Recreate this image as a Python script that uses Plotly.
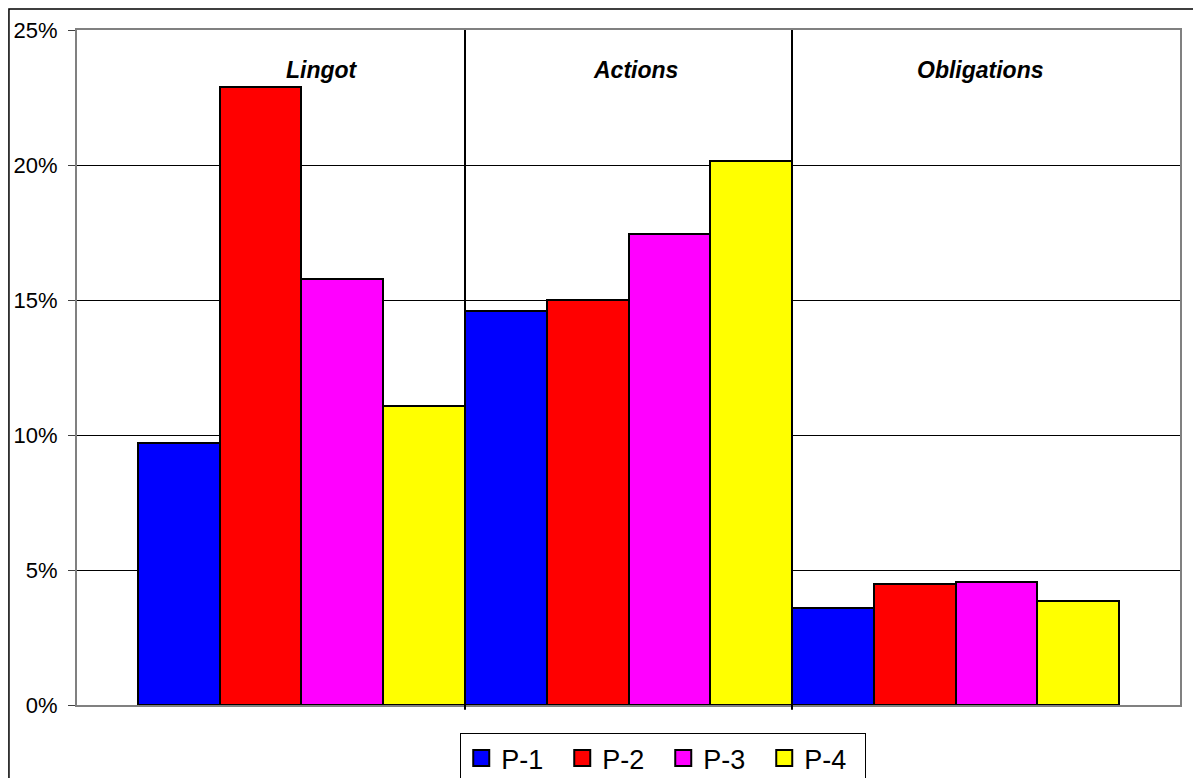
import plotly.graph_objects as go

# Asset classes and the four portfolios
categories = ["Lingot", "Actions", "Obligations"]
series_names = ["P-1", "P-2", "P-3", "P-4"]
p1 = [9.69, 14.59, 3.58]
p2 = [22.90, 15.00, 4.48]
p3 = [15.77, 17.43, 4.56]
p4 = [11.09, 20.16, 3.84]
y_ticks = [0, 5, 10, 15, 20, 25]
y_tick_labels = ["0%", "5%", "10%", "15%", "20%", "25%"]

series_values = [p1, p2, p3, p4]
colors = ["#0000FF", "#FF0000", "#FF00FF", "#FFFF00"]
font_family = "Liberation Sans, Arial, sans-serif"

n_series = len(series_names)
fig = go.Figure()

# Each category is a block of four adjacent bars (one slot per portfolio)
for s, (name, vals, col) in enumerate(zip(series_names, series_values, colors)):
    xs = [c * n_series + s for c in range(len(categories))]
    fig.add_trace(go.Bar(
        x=xs, y=vals, name=name, width=1.0,
        marker=dict(color=col, line=dict(color="black", width=2)),
        showlegend=False,
    ))
    # legend entry with a larger square swatch
    fig.add_trace(go.Scatter(
        x=[None], y=[None], mode="markers", name=name,
        marker=dict(symbol="square", size=16, color=col,
                    line=dict(color="black", width=2)),
    ))

shapes = []
# vertical separators between categories
for c in range(1, len(categories)):
    xsep = c * n_series - 0.5
    shapes.append(dict(type="line", xref="x", yref="paper", x0=xsep, x1=xsep,
                       y0=-0.007, y1=1, line=dict(color="black", width=2)))
# outer chart frame (runs off the right and bottom edges)
shapes.append(dict(type="rect", xref="paper", yref="paper",
                   x0=-0.0617, x1=1.05, y0=-0.2, y1=1.0311,
                   line=dict(color="black", width=1.5), layer="below"))

# category captions inside the plot
label_x = [1.75, 5.58, 9.80]
annotations = [
    dict(x=lx, y=0.941, xref="x", yref="paper", text=f"<b><i>{cat}</i></b>",
         showarrow=False, font=dict(family=font_family, size=23, color="black"),
         xanchor="center", yanchor="middle")
    for lx, cat in zip(label_x, categories)
]

fig.update_layout(
    width=1193, height=778,
    margin=dict(l=77, r=13, t=30, b=73, autoexpand=False),
    paper_bgcolor="white", plot_bgcolor="white",
    bargap=0, barmode="overlay",
    font=dict(family=font_family, color="black"),
    shapes=shapes,
    annotations=annotations,
    xaxis=dict(range=[-1.246, 12.246], showticklabels=False, showgrid=False,
               zeroline=False, ticks="", showline=True, mirror=True,
               linecolor="#808080", linewidth=2, fixedrange=True),
    yaxis=dict(range=[0, 25], tickvals=y_ticks, ticktext=y_tick_labels,
               showgrid=True, gridcolor="black", gridwidth=1, zeroline=False,
               showline=True, mirror=True, linecolor="#808080", linewidth=2,
               ticks="outside", ticklen=7, tickcolor="#404040", tickwidth=1,
               ticklabelstandoff=6,
               tickfont=dict(family=font_family, size=22, color="black")),
    legend=dict(orientation="h", x=0.5315, xanchor="center", y=-0.0415,
                yanchor="top", bordercolor="black", borderwidth=1,
                bgcolor="white", font=dict(family=font_family, size=27),
                entrywidth=56, entrywidthmode="pixels"),
)

fig.write_html("out.html")
